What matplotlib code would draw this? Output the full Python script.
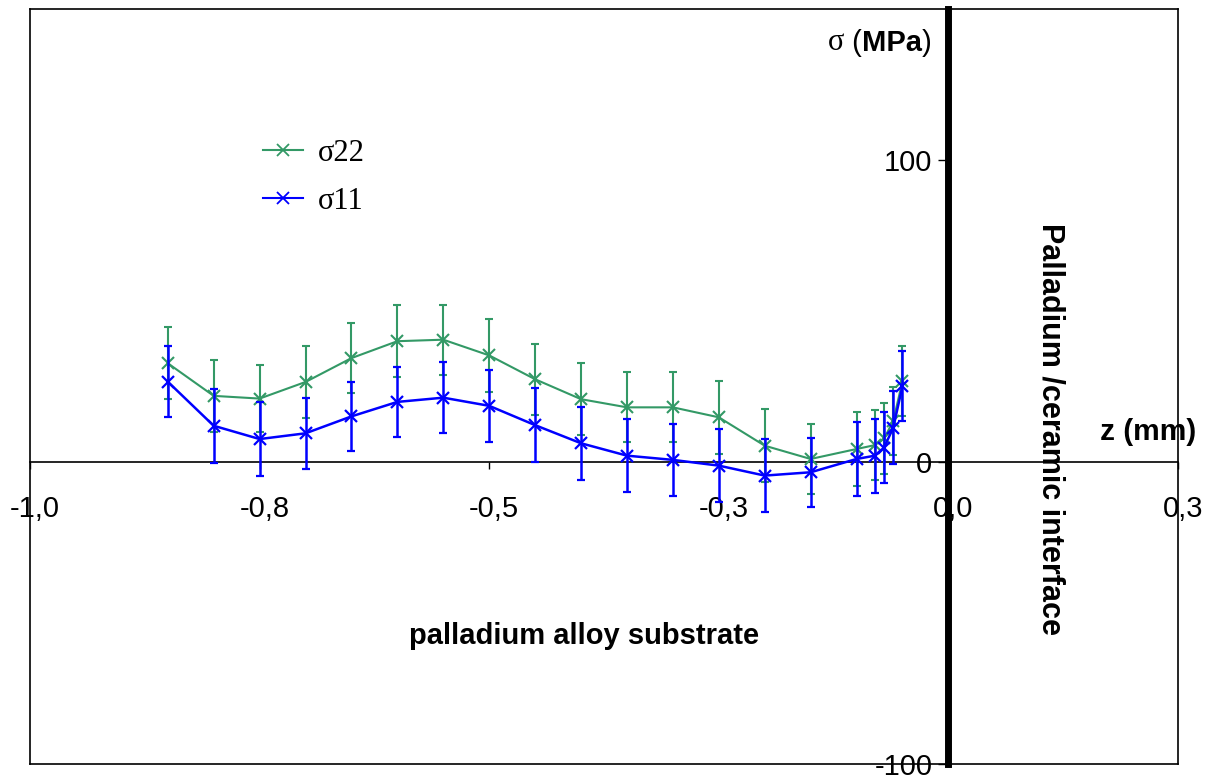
import numpy as np
import matplotlib
matplotlib.use('Agg')
import matplotlib.pyplot as plt
import matplotlib.transforms as mtransforms
from matplotlib.lines import Line2D

plt.rcParams['axes.unicode_minus'] = False

# depth below the Pd/ceramic interface (mm) and residual stresses (MPa)
z = [-0.85, -0.80, -0.75, -0.70, -0.65, -0.60, -0.55, -0.50, -0.45, -0.40,
     -0.35, -0.30, -0.25, -0.20, -0.15, -0.10, -0.08, -0.07, -0.06, -0.05]
s22 = [32.7, 21.9, 21.0, 26.5, 34.4, 40.0, 40.5, 35.3, 27.4, 20.8,
       18.1, 18.1, 14.8, 5.4, 1.0, 4.3, 5.6, 7.8, 13.6, 26.8]
s11 = [26.6, 12.0, 7.6, 9.5, 15.1, 19.9, 21.3, 18.6, 12.2, 6.2,
       2.1, 0.7, -1.2, -4.5, -3.4, 1.0, 2.1, 4.8, 11.4, 25.2]
err22 = [12.0, 11.9, 11.0, 11.8, 11.7, 12.0, 11.6, 12.0, 11.8, 11.9,
         11.6, 11.6, 12.0, 12.1, 11.7, 12.2, 11.7, 11.8, 11.4, 11.6]
err11 = [11.8, 12.2, 12.4, 11.8, 11.4, 11.7, 11.7, 12.0, 12.3, 12.0,
         12.0, 11.8, 12.0, 12.1, 11.4, 12.4, 12.2, 11.7, 12.0, 11.6]

xticks = [-1.0, -0.75, -0.5, -0.25, 0.0, 0.25]
xtick_labels = ['-1,0', '-0,8', '-0,5', '-0,3', '0,0', '0,3']
yticks = [-100, 0, 100]

GREEN = '#339966'
BLUE = '#0000FF'
SANS = 'Liberation Sans'
SERIF = 'Liberation Serif'

fig = plt.figure(figsize=(12.13, 7.76), dpi=100)
ax = fig.add_axes([30 / 1213, 12 / 776, 1148 / 1213, 755 / 776])
ax.set_xlim(-1.0, 0.25)
ax.set_ylim(-100, 150)

# axes cross at the origin; the y axis (interface) is drawn heavy
ax.spines['left'].set_position(('data', 0))
ax.spines['left'].set_linewidth(5)
ax.spines['bottom'].set_position(('data', 0))
ax.spines['bottom'].set_linewidth(1.2)
for s in ('top', 'right'):
    ax.spines[s].set_linewidth(1.2)
# outer frame left/bottom edges
ax.plot([0, 0], [0, 1], transform=ax.transAxes, color='k', lw=1.2, clip_on=False)
ax.plot([0, 1], [0, 0], transform=ax.transAxes, color='k', lw=1.2, clip_on=False)

ax.set_xticks(xticks, labels=xtick_labels)
ax.set_yticks(yticks)
ax.tick_params(axis='x', direction='out', length=5, width=1, pad=19,
               labelsize=21)
ax.tick_params(axis='y', direction='out', length=7.5, width=1, pad=4,
               labelsize=21)
shift = mtransforms.ScaledTranslation(0.05, 0, fig.dpi_scale_trans)
for lab in ax.get_xticklabels():
    lab.set_family(SANS)
    lab.set_transform(lab.get_transform() + shift)
for lab in ax.get_yticklabels():
    lab.set_family(SANS)

ax.errorbar(z, s22, yerr=err22, fmt='none', ecolor=GREEN, elinewidth=1.5,
            capsize=3, capthick=1.5, zorder=3)
ax.plot(z, s22, color=GREEN, lw=1.5, marker='x', ms=9, mew=1.5, zorder=4)
ax.errorbar(z, s11, yerr=err11, fmt='none', ecolor=BLUE, elinewidth=1.8,
            capsize=3, capthick=1.6, zorder=5)
ax.plot(z, s11, color=BLUE, lw=1.8, marker='x', ms=9, mew=1.6, zorder=6)

handles = [Line2D([], [], color=GREEN, lw=1.5, marker='x', ms=8, mew=1.3),
           Line2D([], [], color=BLUE, lw=1.5, marker='x', ms=8, mew=1.3)]
ax.legend(handles, ['σ22', 'σ11'], loc='upper left',
          bbox_to_anchor=(263 / 1213, 1 - 139 / 776),
          bbox_transform=fig.transFigure, frameon=False, borderpad=0,
          borderaxespad=0, handlelength=1.3, handletextpad=0.5,
          labelspacing=0.61, prop={'family': SERIF, 'size': 22})

# axis titles and annotations
t0 = fig.text(828 / 1213, 1 - 50 / 776, 'σ', family=SERIF, fontsize=22,
              va='baseline', ha='left')
t1 = ax.annotate(' (', xy=(1, 0), xycoords=t0, va='bottom', ha='left',
                 family=SANS, fontsize=21)
t2 = ax.annotate('MPa', xy=(1, 0), xycoords=t1, va='bottom', ha='left',
                 family=SANS, fontsize=21, fontweight='bold')
ax.annotate(')', xy=(1, 0), xycoords=t2, va='bottom', ha='left',
            family=SANS, fontsize=21)

ax.text(0.2176, 10.0, 'z (mm)', family=SANS, fontsize=21.5, fontweight='bold',
        ha='center', va='center')
ax.text(-0.397, -57.7, 'palladium alloy substrate', family=SANS, fontsize=21,
        fontweight='bold', ha='center', va='center')
ax.text(0.111, 11.0, 'Palladium /ceramic interface', family=SANS, fontsize=22,
        fontweight='bold', ha='center', va='center', rotation=-90)

fig.savefig('out.png', dpi=100)
